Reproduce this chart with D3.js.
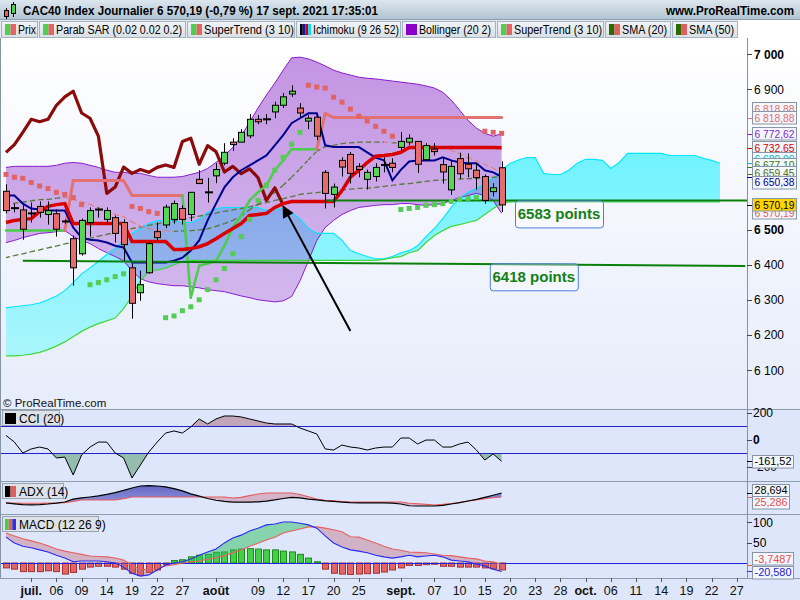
<!DOCTYPE html>
<html>
<head>
<meta charset="utf-8">
<script src="https://cdn.jsdelivr.net/npm/d3@7"></script>
<style>
html,body{margin:0;padding:0;background:#fff;}
svg{display:block;}
text{font-family:"Liberation Sans",Arial,sans-serif;}
</style>
</head>
<body>
<svg id="chart" width="800" height="600"></svg>
<script>
// ================= DATA =================
const dates = ["06-28","06-29","06-30","07-01","07-02","07-05","07-06","07-07","07-08","07-09","07-12","07-13","07-14","07-15","07-16","07-19","07-20","07-21","07-22","07-23","07-26","07-27","07-28","07-29","07-30","08-02","08-03","08-04","08-05","08-06","08-09","08-10","08-11","08-12","08-13","08-16","08-17","08-18","08-19","08-20","08-23","08-24","08-25","08-26","08-27","08-30","08-31","09-01","09-02","09-03","09-06","09-07","09-08","09-09","09-10","09-13","09-14","09-15","09-16","09-17","09-20","09-21","09-22","09-23","09-24","09-27","09-28","09-29","09-30","10-01","10-04","10-05","10-06","10-07","10-08","10-11","10-12","10-13","10-14","10-15","10-18","10-19","10-20","10-21","10-22","10-25","10-26","10-27","10-28","10-29"];
const xTickDates  = ["07-01","07-06","07-09","07-14","07-19","07-22","07-27","08-02","08-09","08-12","08-17","08-20","08-25","09-01","09-07","09-10","09-15","09-20","09-23","09-28","10-01","10-06","10-11","10-14","10-19","10-22","10-27"];
const xTickLabels = ["juil.","06","09","14","19","22","27","août","09","12","17","20","25","sept.","07","10","15","20","23","28","oct.","06","11","14","19","22","27"];
const monthLabels = ["juil.","août","sept.","oct."];

const open  = [6609,6561,6556,6546,6566,6543,6545,6523,6474,6431,6520,6557,6529,6534,6520,6391,6320,6377,6494,6513,6529,6560,6543,6643,6606,6653,6689,6749,6749,6767,6814,6814,6835,6854,6886,6846,6809,6820,6663,6600,6697,6714,6680,6643,6651,6684,6689,6734,6749,6751,6699,6729,6685,6613,6702,6686,6669,6651,6608,6676];
const high  = [6629,6574,6569,6577,6580,6580,6557,6529,6483,6531,6563,6563,6563,6540,6529,6403,6383,6463,6520,6571,6583,6569,6607,6669,6647,6689,6746,6760,6786,6829,6826,6829,6864,6889,6911,6860,6826,6831,6669,6631,6706,6721,6689,6671,6689,6706,6703,6778,6771,6752,6746,6746,6707,6697,6719,6717,6688,6657,6632,6694];
const low   = [6546,6549,6471,6520,6534,6514,6480,6517,6340,6426,6480,6534,6514,6463,6411,6246,6297,6374,6469,6504,6517,6514,6524,6630,6577,6632,6683,6724,6749,6760,6800,6800,6817,6846,6878,6821,6786,6754,6560,6563,6651,6631,6649,6614,6637,6663,6663,6726,6740,6661,6697,6711,6631,6599,6645,6649,6614,6573,6594,6550];
const close = [6554,6561,6501,6546,6549,6554,6501,6523,6391,6526,6554,6557,6554,6489,6457,6290,6343,6460,6477,6564,6574,6529,6606,6631,6606,6671,6720,6742,6777,6814,6807,6814,6854,6878,6894,6832,6817,6766,6603,6621,6678,6660,6671,6663,6677,6684,6677,6751,6760,6686,6739,6722,6664,6680,6659,6673,6648,6583,6619,6570.19];

const sar = [6657,6649,6646,6634,6624,6617,6606,6600,6591,6571,6343,6349,6357,6366,6374,6566,6560,6551,6546,6249,6254,6269,6280,6300,6329,6357,6389,6431,6480,6529,6583,6626,6669,6706,6743,6777,6911,6906,6903,6877,6863,6843,6823,6809,6794,6780,6766,6557,6560,6563,6569,6571,6574,6580,6586,6589,6591,6780,6777,6774];
const superTrend = [6497,6497,6497,6497,6497,6497,6497,6497,6640,6640,6640,6640,6640,6640,6640,6597,6597,6597,6597,6597,6597,6597,6306,6397,6403,6411,6454,6506,6540,6583,6606,6626,6669,6697,6729,6729,6729,6729,6831,6818.88,6818.88,6818.88,6818.88,6818.88,6818.88,6818.88,6818.88,6818.88,6818.88,6818.88,6818.88,6818.88,6818.88,6818.88,6818.88,6818.88,6818.88,6818.88,6818.88,6818.88];

const bbUpper = [6677,6680,6680,6680,6680,6680,6683,6689,6691,6689,6683,6677,6669,6663,6663,6660,6660,6654,6649,6649,6649,6651,6657,6663,6674,6691,6711,6734,6766,6806,6846,6883,6917,6954,6989,6991,6986,6977,6966,6954,6946,6940,6934,6931,6929,6926,6923,6920,6917,6914,6909,6903,6891,6869,6840,6811,6789,6774,6766,6772.62];
const bbLower = [6463,6469,6477,6483,6489,6491,6494,6497,6480,6469,6460,6446,6434,6423,6411,6383,6360,6351,6346,6343,6340,6340,6337,6334,6329,6326,6323,6317,6311,6306,6300,6297,6294,6297,6309,6354,6411,6469,6506,6526,6543,6554,6563,6566,6569,6571,6571,6574,6574,6571,6569,6571,6574,6583,6591,6597,6603,6597,6583,6546.28];
const sma20 = [6570,6575,6578,6582,6585,6586,6589,6593,6586,6579,6572,6562,6552,6543,6537,6522,6510,6503,6498,6496,6495,6496,6497,6499,6502,6509,6517,6526,6539,6556,6573,6590,6606,6626,6649,6673,6699,6723,6736,6740,6745,6747,6749,6749,6749,6749,6747,6747,6746,6743,6739,6737,6733,6726,6716,6704,6696,6686,6675,6659.45];
const sma50 = [6420,6426,6431,6437,6442,6448,6453,6459,6464,6470,6475,6481,6486,6492,6497,6503,6507,6512,6516,6521,6525,6530,6534,6538,6543,6547,6552,6556,6560,6565,6571,6577,6583,6588,6594,6600,6603,6605,6608,6610,6613,6615,6617,6618,6620,6623,6626,6629,6631,6634,6637,6640,6641,6643,6644,6645,6646,6647,6649,6650];

const tenkan = [6597,6597,6574,6560,6557,6554,6554,6554,6506,6477,6471,6469,6463,6454,6449,6406,6406,6406,6406,6406,6411,6420,6440,6469,6526,6574,6620,6649,6669,6683,6697,6711,6740,6769,6803,6817,6831,6831,6740,6735,6735,6735,6735,6720,6705,6697,6640,6670,6694,6697,6697,6697,6706,6697,6691,6689,6689,6669,6663,6650.38];
const kijun  = [6520,6526,6529,6531,6551,6566,6571,6574,6517,6517,6517,6517,6517,6517,6517,6466,6466,6466,6466,6466,6443,6443,6446,6451,6460,6474,6489,6503,6517,6540,6543,6546,6563,6574,6580,6580,6580,6580,6580,6580,6611,6649,6669,6691,6709,6711,6714,6720,6734,6734,6734,6734,6734,6734,6734,6734,6734,6734,6734,6732.65];
const chikou = [6720,6742,6777,6814,6807,6814,6854,6878,6894,6832,6817,6766,6603,6621,6678,6660,6671,6663,6677,6684,6677,6751,6760,6686,6739,6722,6664,6680,6659,6673,6648,6583,6619,6570.19];
const spanA = [6277,6280,6283,6286,6291,6300,6311,6326,6349,6374,6391,6409,6429,6446,6469,6489,6503,6517,6526,6526,6526,6520,6520,6529,6549,6560,6563,6563,6563,6563,6563,6554,6557,6560,6549,6531,6503,6489,6489,6489,6469,6440,6431,6423,6417,6417,6423,6434,6440,6454,6480,6503,6531,6563,6589,6606,6617,6631,6646,6669,6688,6698,6705,6705,6660,6657,6657,6669,6689,6700,6700,6697,6674,6691,6717,6717,6717,6717,6717,6711,6711,6711,6711,6703,6697,6689];
const spanB = [6140,6140,6142,6145,6150,6158,6168,6180,6195,6210,6222,6232,6240,6248,6275,6310,6355,6380,6385,6390,6400,6408,6412,6412,6412,6412,6412,6412,6412,6412,6412,6412,6412,6412,6412,6412,6412,6412,6412,6412,6412,6412,6412,6412,6412,6415,6420,6423,6434,6440,6463,6483,6497,6509,6514,6520,6526,6543,6560,6574,6578.5,6578.5,6578.5,6578.5,6578.5,6578.5,6578.5,6578.5,6578.5,6578.5,6578.5,6578.5,6578.5,6578.5,6578.5,6578.5,6578.5,6578.5,6578.5,6578.5,6578.5,6578.5,6578.5,6578.5,6578.5,6578.5];
const priceTicks = [6100,6200,6300,6400,6500,6600,6700,6800,6900,7000];

const cci = [30,-19,-100,-70,-56,-70,-137,-130,-263,-115,-56,-19,-19,-100,-137,-285,-189,-93,-19,48,63,48,93,152,115,152,174,174,167,152,137,122,115,115,115,85,63,41,-70,-78,-41,-56,-63,-78,-63,-56,-56,11,11,-33,-4,-4,-56,-56,-33,-19,-78,-152,-107,-161.52];
const cciTicks = [200,0,-200];
const adx    = [20.2,19.5,18.8,18.5,18.8,19.3,20.0,21.0,23.5,24.5,25.3,26.2,27.5,29.0,31.0,33.0,34.7,35.0,34.7,34.0,32.5,30.5,28.0,26.0,24.0,22.5,21.5,21.0,21.0,21.0,21.2,21.8,22.8,24.0,25.0,24.5,23.5,22.8,22.0,21.5,21.0,20.5,20.2,20.2,20.2,20.2,20.0,19.3,17.8,17.6,17.6,17.6,18.2,19.3,20.5,21.9,23.2,25.0,26.8,28.694];
const adxRef = [20.2,20.2,20.0,20.0,20.0,20.1,20.2,20.5,21.5,22.7,22.7,22.7,22.7,22.7,23.8,25.3,25.3,25.3,25.3,25.3,25.3,25.3,25.3,25.3,25.3,25.3,25.3,24.5,25.0,26.5,27.8,28.7,28.7,28.7,28.7,27.5,25.5,23.6,22.5,22.0,21.5,21.0,21.0,21.0,21.0,21.0,21.0,21.0,20.0,19.5,19.0,18.5,19.0,19.8,20.5,21.9,22.8,23.8,24.6,25.286];
const macd   = [63,49,41,37,32,27,19,12,3,5,5,5,3,0,-10,-25,-32,-29,-17,-5,0,3,10,19,27,34,49,61,68,78,85,93,95,100,100,97,93,85,66,49,39,32,29,25,19,15,12,15,19,15,17,19,15,7,5,3,-3,-7,-15,-20.58];
const signal = [73,66,59,54,49,42,34,29,25,21,17,16,15,12,7,-5,-17,-15,-12,-7,-4,0,3,5,9,12,18,25,32,41,48,56,63,73,78,83,88,88,85,81,76,64,63,56,49,41,34,31,27,26,25,22,19,18,15,12,10,5,3,-3.7487];
const hist   = [-12,-15,-21,-21,-21,-19,-21,-27,-23,-15,-10,-8,-8,-10,-15,-25,-30,-23,-17,-4,6,8,15,19,21,26,27,32,34,35,34,32,32,29,27,21,12,3,-15,-25,-27,-28,-27,-26,-25,-22,-17,-12,-6,-6,-4,-3,-8,-8,-10,-10,-10,-12,-14,-16.83];
const macdTicks = [100,50];

const levelLabels = ["6583 points","6418 points"];
const levelFrom   = ["08-19","06-30"];
const levelTo     = ["10-29","10-28"];
const levelStart  = [6583,6411];
const levelEnd    = [6583,6396];
const levelBoxAt  = ["09-20","09-15"];
const arrowFrom = ["08-24",6211];
const arrowTo   = ["08-12",6566];

// ================= SETUP =================
const fr = d3.formatLocale({decimal:",",thousands:" ",grouping:[3],currency:["","€"],minus:"-"});
const fInt = fr.format(",d"), f2 = fr.format(",.2f"), f3 = fr.format(",.3f"), f4 = fr.format(",.4f");
const svg = d3.select("#chart");
const defs = svg.append("defs");
const PR = 747, MT = 38, MB = 409;
function grad(id, y1, y2, stops){
  const g = defs.append("linearGradient").attr("id",id).attr("gradientUnits","userSpaceOnUse")
    .attr("x1",0).attr("x2",0).attr("y1",y1).attr("y2",y2);
  stops.forEach(s=>g.append("stop").attr("offset",s[0]).attr("stop-color",s[1]).attr("stop-opacity",s[2]==null?1:s[2]));
}
grad("gHead",0,20,[[0,"#dce6ee"],[1,"#b0c3d1"]]);
grad("gTab",21,37,[[0,"#f2f5f7"],[1,"#d9e0e6"]]);
grad("gMain",MT,MB,[[0,"#ffffff"],[1,"#e6ecfa"]]);
grad("gBB",54,330,[[0,"#9640cd",0.56],[1,"#9640cd",0.3]]);
grad("gCloud",150,400,[[0,"#6ff3ff"],[1,"#b6f5fb"]]);
grad("gADXb",481,514,[[0,"#2a2aa8",0.75],[1,"#6a6ad0",0.5]]);
function clip(id, x, y, w, h){ defs.append("clipPath").attr("id",id).append("rect").attr("x",x).attr("y",y).attr("width",w).attr("height",h); }
clip("cMain",0,MT,PR,MB-MT);
clip("cCCI",0,409,PR,72);
clip("cADX",0,481,PR,33);
clip("cMACD",0,514,PR,64);

const x = d3.scalePoint().domain(dates).range([6, 6 + 8.4*(dates.length-1)]);
const xi = i => x(dates[0]) + i * x.step();
const y = d3.scaleLinear().domain([6100,7000]).range([370,54]);
const yC = d3.scaleLinear().domain([-100,100]).range([453,426]);
const yA = d3.scaleLinear().domain([10,40]).range([514.9,479.8]);
const yM = d3.scaleLinear().domain([0,100]).range([563,522]);

// backgrounds
svg.append("rect").attr("width",800).attr("height",600).attr("fill","#dde6fa");
svg.append("rect").attr("x",0).attr("y",MT).attr("width",800).attr("height",MB-MT).attr("fill","url(#gMain)");

// ================= HEADER =================
svg.append("rect").attr("width",800).attr("height",20).attr("fill","url(#gHead)");
svg.append("line").attr("x1",0).attr("x2",800).attr("y1",19.5).attr("y2",19.5).attr("stroke","#8aa0b0");
const ic = svg.append("g");
ic.append("line").attr("x1",6.5).attr("x2",6.5).attr("y1",8).attr("y2",19).attr("stroke","#000");
ic.append("rect").attr("x",4.5).attr("y",10.5).attr("width",4).attr("height",6).attr("fill","#e06666").attr("stroke","#000");
ic.append("line").attr("x1",13.5).attr("x2",13.5).attr("y1",2).attr("y2",17).attr("stroke","#000");
ic.append("rect").attr("x",11.5).attr("y",4.5).attr("width",4).attr("height",9).attr("fill","#4fd24f").attr("stroke","#000");
svg.append("text").attr("x",23).attr("y",15).attr("font-size",12.5).attr("font-weight","bold")
  .attr("textLength",355).attr("lengthAdjust","spacingAndGlyphs")
  .text("CAC40 Index Journalier 6 570,19 (-0,79 %) 17 sept. 2021 17:35:01");
svg.append("text").attr("x",666).attr("y",15).attr("font-size",12).attr("font-weight","bold")
  .attr("textLength",128).attr("lengthAdjust","spacingAndGlyphs").text("www.ProRealTime.com");

// legend row
svg.append("rect").attr("x",0).attr("y",20).attr("width",800).attr("height",18).attr("fill","#e3e9ee");
svg.append("rect").attr("x",738).attr("y",20).attr("width",62).attr("height",18).attr("fill","#ffffff");
const tabs = [
  {t:"Prix",x:1,w:37,tw:18,ic:["#4fcf4f","#e06666"]},
  {t:"Parab SAR (0.02 0.02 0.2)",x:39,w:147,tw:126,ic:["#4fcf4f","#e06666"]},
  {t:"SuperTrend (3 10)",x:187,w:108,tw:90,ic:["#4fcf4f","#e06666"]},
  {t:"Ichimoku (9 26 52)",x:296,w:105,tw:86,ic:["#000000","#1010c0","#d00000","#00e0f0"]},
  {t:"Bollinger (20 2)",x:402,w:94,tw:72,ic:["#8a00c8"]},
  {t:"SuperTrend (3 10)",x:497,w:107,tw:88,ic:["#4fcf4f","#e06666"]},
  {t:"SMA (20)",x:605,w:66,tw:45,ic:["#2d6a00","#e06060"]},
  {t:"SMA (50)",x:672,w:66,tw:45,ic:["#2d6a00","#e06060"]}
];
tabs.forEach(tb=>{
  const g = svg.append("g");
  g.append("rect").attr("x",tb.x+0.5).attr("y",21.5).attr("width",tb.w-1).attr("height",16).attr("fill","url(#gTab)").attr("stroke","#a6b4c0");
  const n = tb.ic.length, iw = 11/n;
  tb.ic.forEach((c,k)=>g.append("rect").attr("x",tb.x+4+k*iw).attr("y",24).attr("width",iw).attr("height",11).attr("fill",c));
  g.append("text").attr("x",tb.x+17).attr("y",34).attr("font-size",12).attr("textLength",tb.tw).attr("lengthAdjust","spacingAndGlyphs").text(tb.t);
});

// ================= MAIN PLOT =================
const main = svg.append("g").attr("clip-path","url(#cMain)");
const idx = n => d3.range(n);

// Ichimoku cloud
const nA = spanA.length;
defs.append("clipPath").attr("id","cAboveB").append("path")
  .attr("d", d3.area().x(i=>xi(i)).y0(0).y1(i=>y(spanB[i]))(idx(nA)));
defs.append("clipPath").attr("id","cBelowB").append("path")
  .attr("d", d3.area().x(i=>xi(i)).y0(i=>y(spanB[i])).y1(600)(idx(nA)));
const cloudArea = d3.area().x(i=>xi(i)).y0(i=>y(spanB[i])).y1(i=>y(spanA[i]));
main.append("path").attr("d",cloudArea(idx(nA))).attr("fill","url(#gCloud)").attr("clip-path","url(#cAboveB)");
main.append("path").attr("d",cloudArea(idx(nA))).attr("fill","#ffc8d0").attr("clip-path","url(#cBelowB)");

// Bollinger fill
const N = close.length;
main.append("path").attr("d", d3.area().x(i=>xi(i)).y0(i=>y(bbLower[i])).y1(i=>y(bbUpper[i]))(idx(N))).attr("fill","url(#gBB)");
const lineOf = arr => d3.line().x((v,i)=>xi(i)).y(v=>y(v))(arr);
main.append("path").attr("d",lineOf(bbUpper)).attr("fill","none").attr("stroke","#8a1cd0").attr("stroke-width",1);
main.append("path").attr("d",lineOf(bbLower)).attr("fill","none").attr("stroke","#8a1cd0").attr("stroke-width",1);

// Span lines
main.append("path").attr("d",lineOf(spanA)).attr("fill","none").attr("stroke","#00e6ff").attr("stroke-width",1.1);
main.append("path").attr("d",lineOf(spanB)).attr("fill","none").attr("stroke","#3fd83f").attr("stroke-width",1.2);

// SMA dashed (olive when rising, salmon when falling)
[sma50, sma20].forEach(arr=>{
  for(let i=1;i<arr.length;i++){
    main.append("line").attr("x1",xi(i-1)).attr("y1",y(arr[i-1])).attr("x2",xi(i)).attr("y2",y(arr[i]))
      .attr("stroke", arr[i]>=arr[i-1] ? "#557733" : "#e08080").attr("stroke-width",1.3).attr("stroke-dasharray","4,3");
  }
});

// Chikou
main.append("path").attr("d",lineOf(chikou)).attr("fill","none").attr("stroke","#8b0a0a").attr("stroke-width",3.2).attr("stroke-linejoin","round");

// SuperTrend
for(let i=1;i<N;i++){
  const bull = superTrend[i] < close[i];
  main.append("line").attr("x1",xi(i-1)).attr("y1",y(superTrend[i-1])).attr("x2",xi(i)).attr("y2",y(superTrend[i]))
    .attr("stroke", bull ? "#4ccc4c" : "#e27272").attr("stroke-width", bull?2.5:3).attr("stroke-linecap","round");
}

// Tenkan / Kijun
main.append("path").attr("d",lineOf(tenkan)).attr("fill","none").attr("stroke","#000090").attr("stroke-width",2);
main.append("path").attr("d",lineOf(kijun)).attr("fill","none").attr("stroke","#d80000").attr("stroke-width",3.5);

// horizontal support levels
levelLabels.forEach((lb,k)=>{
  main.append("line").attr("x1",x(levelFrom[k])).attr("x2",x(levelTo[k])).attr("y1",y(levelStart[k])).attr("y2",y(levelEnd[k]))
    .attr("stroke","#0a800a").attr("stroke-width",2);
});

// SAR
main.append("g").selectAll("rect").data(sar).join("rect")
  .attr("x",(v,i)=>xi(i)-2.5).attr("y",v=>y(v)-2.5).attr("width",5).attr("height",5)
  .attr("fill",(v,i)=> v>close[i] ? "#e06464" : "#55cc55");

// Candles
const cg = main.append("g");
for(let i=0;i<N;i++){
  const cx = Math.round(xi(i));
  cg.append("line").attr("x1",cx+0.5).attr("x2",cx+0.5).attr("y1",y(high[i])).attr("y2",y(low[i])).attr("stroke","#000").attr("stroke-width",1);
  if(Math.abs(close[i]-open[i])<2){
    cg.append("rect").attr("x",cx-3).attr("y",y(close[i])-1).attr("width",8).attr("height",2).attr("fill","#000");
  } else {
    const top = y(Math.max(open[i],close[i])), bot = y(Math.min(open[i],close[i]));
    cg.append("rect").attr("x",cx-2.5).attr("y",top).attr("width",6).attr("height",Math.max(1,bot-top))
      .attr("fill", close[i]>open[i] ? "#55d655" : "#e86a6a").attr("stroke","#000").attr("stroke-width",1);
  }
}

// level labels
levelLabels.forEach((lb,k)=>{
  const bx = x(levelBoxAt[k]) + 5;
  const by = y(levelStart[k]) + (k===0 ? 0 : 2.5);
  main.append("rect").attr("x",bx+0.5).attr("y",by+0.5).attr("width",88).attr("height",27).attr("rx",3)
    .attr("fill","#ffffff").attr("fill-opacity",0.35).attr("stroke","#4a7de0").attr("stroke-width",1);
  main.append("text").attr("x",bx+44).attr("y",by+19).attr("text-anchor","middle").attr("font-size",15).attr("font-weight","bold")
    .attr("fill","#158015").text(lb);
});

// arrow
defs.append("marker").attr("id","arr").attr("viewBox","0 0 10 10").attr("refX",9).attr("refY",5)
  .attr("markerWidth",7).attr("markerHeight",6).attr("orient","auto").attr("markerUnits","strokeWidth")
  .append("path").attr("d","M0,0 L10,5 L0,10 z").attr("fill","#000");
main.append("line").attr("x1",x(arrowFrom[0])).attr("y1",y(arrowFrom[1])).attr("x2",x(arrowTo[0])).attr("y2",y(arrowTo[1]))
  .attr("stroke","#000").attr("stroke-width",2).attr("marker-end","url(#arr)");

svg.append("text").attr("x",3).attr("y",407).attr("font-size",11.5).attr("fill","#111").text("© ProRealTime.com");

// ================= LOWER PANELS =================
// CCI
const gc = svg.append("g").attr("clip-path","url(#cCCI)");
const nC = cci.length;
defs.append("clipPath").attr("id","cCciHi").append("rect").attr("x",0).attr("y",400).attr("width",PR).attr("height",yC(100)-400);
defs.append("clipPath").attr("id","cCciLo").append("rect").attr("x",0).attr("y",yC(-100)).attr("width",PR).attr("height",40);
gc.append("path").attr("d",d3.area().x(i=>xi(i)).y0(yC(100)).y1(i=>yC(cci[i]))(idx(nC))).attr("fill","#a05a6a").attr("fill-opacity",0.45).attr("clip-path","url(#cCciHi)");
gc.append("path").attr("d",d3.area().x(i=>xi(i)).y0(yC(-100)).y1(i=>yC(cci[i]))(idx(nC))).attr("fill","#3c8a55").attr("fill-opacity",0.45).attr("clip-path","url(#cCciLo)");
[100,-100].forEach(v=>gc.append("line").attr("x1",0).attr("x2",PR).attr("y1",yC(v)+0.5).attr("y2",yC(v)+0.5).attr("stroke","#2222cc").attr("stroke-width",1));
gc.append("path").attr("d",d3.line().x((v,i)=>xi(i)).y(v=>yC(v))(cci)).attr("fill","none").attr("stroke","#000").attr("stroke-width",1);

// two-colour fill helper
function fill2(g, a, b, ys, top, bot, colA, colB, id, opA, opB){
  const n = a.length;
  defs.append("clipPath").attr("id",id+"u").append("path").attr("d",d3.area().x(i=>xi(i)).y0(top).y1(i=>ys(b[i]))(idx(n)));
  defs.append("clipPath").attr("id",id+"d").append("path").attr("d",d3.area().x(i=>xi(i)).y0(i=>ys(b[i])).y1(bot)(idx(n)));
  const ar = d3.area().x(i=>xi(i)).y0(i=>ys(b[i])).y1(i=>ys(a[i]))(idx(n));
  g.append("path").attr("d",ar).attr("fill",colA).attr("fill-opacity",opA).attr("clip-path",`url(#${id}u)`);
  g.append("path").attr("d",ar).attr("fill",colB).attr("fill-opacity",opB).attr("clip-path",`url(#${id}d)`);
}
// ADX
const ga = svg.append("g").attr("clip-path","url(#cADX)");
fill2(ga, adx, adxRef, yA, 470, 520, "url(#gADXb)", "#c8607a", "fAdx", 1, 0.38);
ga.append("path").attr("d",d3.line().x((v,i)=>xi(i)).y(v=>yA(v))(adxRef)).attr("fill","none").attr("stroke","#e85a5a").attr("stroke-width",1.1);
ga.append("path").attr("d",d3.line().x((v,i)=>xi(i)).y(v=>yA(v))(adx)).attr("fill","none").attr("stroke","#000").attr("stroke-width",1.2);

// MACD
const gm = svg.append("g").attr("clip-path","url(#cMACD)");
gm.append("g").selectAll("rect").data(hist).join("rect")
  .attr("x",(v,i)=>Math.round(xi(i))-2.5).attr("y",v=>v>=0?yM(v):yM(0)).attr("width",6).attr("height",v=>Math.abs(yM(v)-yM(0)))
  .attr("fill",v=>v>=0?"#44d044":"#e56464").attr("stroke",v=>v>=0?"#1d8a1d":"#a83232").attr("stroke-width",1);
gm.append("line").attr("x1",0).attr("x2",PR).attr("y1",yM(0)+0.5).attr("y2",yM(0)+0.5).attr("stroke","#2222dd").attr("stroke-width",1);
fill2(gm, macd, signal, yM, 500, 600, "#30c060", "#c06070", "fMacd", 0.5, 0.38);
gm.append("path").attr("d",d3.line().x((v,i)=>xi(i)).y(v=>yM(v))(signal)).attr("fill","none").attr("stroke","#e86060").attr("stroke-width",1.1);
gm.append("path").attr("d",d3.line().x((v,i)=>xi(i)).y(v=>yM(v))(macd)).attr("fill","none").attr("stroke","#2a2af0").attr("stroke-width",1.1);

// panel headers
function panelHead(x0,y0,w,label,cols){
  svg.append("rect").attr("x",x0+0.5).attr("y",y0+0.5).attr("width",w).attr("height",15).attr("fill","#dce2e8").attr("stroke","#97a5b3");
  const iw = 11/cols.length;
  cols.forEach((c,k)=>svg.append("rect").attr("x",x0+3+k*iw).attr("y",y0+3).attr("width",iw).attr("height",11).attr("fill",c));
  svg.append("text").attr("x",x0+17).attr("y",y0+13).attr("font-size",12).text(label);
}
panelHead(2,410,57,"CCI (20)",["#000"]);
panelHead(2,483,61,"ADX (14)",["#000","#e06060"]);
panelHead(2,516,96,"MACD (12 26 9)",["#44d044","#e06060","#3030e0"]);

// separators
[409,481,514,578].forEach(v=>svg.append("line").attr("x1",0).attr("x2",800).attr("y1",v+0.5).attr("y2",v+0.5).attr("stroke","#8c9cac"));
svg.append("line").attr("x1",PR+0.5).attr("x2",PR+0.5).attr("y1",MT).attr("y2",578).attr("stroke","#8494a4");
svg.append("line").attr("x1",0.5).attr("x2",0.5).attr("y1",MT).attr("y2",578).attr("stroke","#8494a4");

// ================= X AXIS =================
xTickDates.forEach((d,k)=>{
  const lb = xTickLabels[k];
  const bold = monthLabels.includes(lb);
  svg.append("line").attr("x1",Math.round(x(d))+0.5).attr("x2",Math.round(x(d))+0.5).attr("y1",578).attr("y2",582).attr("stroke","#555");
  svg.append("text").attr("x",x(d)).attr("y",595).attr("text-anchor","middle").attr("font-size",12.5)
    .attr("font-weight",bold?"bold":"normal").attr("fill","#111").text(lb);
});

// ================= RIGHT AXIS =================
function valBox(yc, txt, col, bg, w){
  const g = svg.append("g");
  const r = g.append("rect").attr("x",752.5).attr("y",Math.round(yc-6.5)+0.5).attr("height",12.5).attr("fill",bg||"#f3f6fa").attr("stroke","#8696a8");
  const t = g.append("text").attr("x",754.5).attr("y",yc+4).attr("font-size",11).attr("fill",col).text(txt);
  const tw = t.node().getComputedTextLength();
  if(w){ r.attr("width",w); if(tw>w-4) t.attr("textLength",w-4).attr("lengthAdjust","spacingAndGlyphs"); }
  else r.attr("width",tw+5);
}
function tick(yv,col){ svg.append("line").attr("x1",PR).attr("x2",752).attr("y1",Math.round(yv)+0.5).attr("y2",Math.round(yv)+0.5).attr("stroke",col||"#333"); }

// price value boxes: [value, display offset, colour, bg]
const last = a => a[a.length-1];
const priceBoxes = [
  [last(superTrend),-9,"#e07070"],
  [last(superTrend),0,"#e07070"],
  [last(bbUpper),0,"#8a1cd0"],
  [last(kijun),0,"#d80000"],
  [last(spanA.slice(0,N+26)),-4.5,"#00b8c8"],
  [6677.1,-2.4,"#3c7a10"],
  [last(sma20),-0.6,"#4f6f1f"],
  [last(tenkan),5.7,"#0000a8"],
  [last(close),8,"#e06060"],
  [last(close),0,"#000","#ffd200"]
];
const boxYs = priceBoxes.map(b=>y(b[0])+b[1]);
priceTicks.forEach(v=>{
  const yv = y(v);
  if(boxYs.some(b=>Math.abs(b-yv)<13)) return;
  tick(yv,"#444");
  svg.append("text").attr("x",754).attr("y",yv+4.5).attr("font-size",12).attr("font-weight",(v===7000||v===6500)?"bold":"normal").text(fInt(v));
});
priceBoxes.forEach(b=>{ tick(y(b[0]), b[2]==="#000"?"#000":b[2]); });
priceBoxes.forEach((b,k)=>valBox(boxYs[k], f2(b[0]), b[2], b[3], 44));

// CCI axis
cciTicks.forEach(v=>{ tick(yC(v),"#444"); svg.append("text").attr("x",753).attr("y",yC(v)+4.5).attr("font-size",12).attr("font-weight",v===0?"bold":"normal").text(v===0?"0":fInt(v)); });
tick(yC(last(cci)),"#000");
valBox(yC(last(cci)), f2(last(cci)), "#000", null, 41);
// ADX boxes
tick(yA(last(adx)),"#000"); tick(yA(last(adxRef)),"#e06060");
valBox(yA(last(adx))-3, f3(last(adx)), "#000", null, 37);
valBox(yA(last(adxRef))+5, f3(last(adxRef)), "#e05050", null, 37);
// MACD axis
macdTicks.forEach(v=>{ tick(yM(v),"#444"); svg.append("text").attr("x",753).attr("y",yM(v)+4.5).attr("font-size",12).text(fInt(v)); });
tick(yM(last(signal)),"#e06060"); tick(yM(last(macd)),"#3030e0");
valBox(yM(last(signal))-6, f4(last(signal)), "#e05050", null, 41);
valBox(yM(last(macd))+1, f3(last(macd)), "#2020d0", null, 41);
</script>
</body>
</html>
